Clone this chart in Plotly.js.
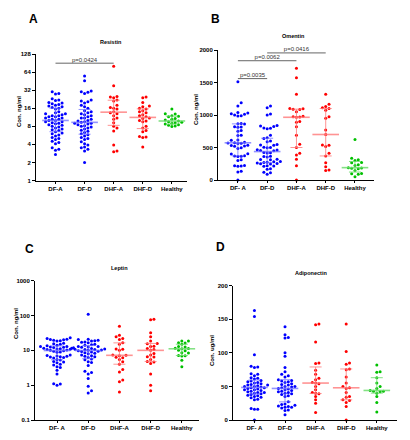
<!DOCTYPE html>
<html><head><meta charset="utf-8">
<script src="https://cdn.plot.ly/plotly-3.0.1.min.js"></script>
<style>html,body{margin:0;padding:0;background:#fff}#chart{width:410px;height:440px}</style>
</head><body><div id="chart"></div>
<script>
// ---------- data ----------
const groups = ['DF-A','DF-D','DHF-A','DHF-D','Healthy'];
const tickLabelsA = ['DF-A','DF-D','DHF-A','DHF-D','Healthy'];
const tickLabelsBCD = ['DF- A','DF-D','DHF-A','DHF-D','Healthy'];

// Resistin (ng/ml)
const resistinDFA = [30,28,27.5,23,22,21.5,20,19.5,19,18.5,18,17.5,17,16.5,16,15.5,14,13.5,13,13,12.5,12,12,11.5,11.5,11,11,10.5,10.5,10,10,9.5,9.5,9.2,9,8.8,8.5,8.3,8,7.8,7.5,7.2,7,6.8,6.5,6.2,6,5.7,5.5,5.2,5,4.8,4.5,4.3,4.1,3.5,3.3,3.2,2.7];
const resistinDFD = [55,46,31,30,29.5,28,22,21,20.5,19.5,18,17,16,14.5,14,13.5,13,12.5,12,11.5,11,11,10.5,10,9.8,9.5,9.3,9,9,8.7,8.5,8.2,8,7.8,7.5,7.2,6.9,6.6,6.3,6,5.8,5.5,5.2,5,4.8,4.4,4.1,3.9,3.6,3.5,3.3,3.1,2];
const resistinDHFA = [80,38,25,24.5,24,22,21,18,16.5,16,15.5,14,13.5,13,12,11,10.5,9.2,8,7.5,6.7,3.9,3.1,3.0];
const resistinDHFD = [24.5,24,20,17.5,17,16,15.5,14.5,14,13.5,12.5,12,11.5,11,10.8,10,9.8,9.5,8,7.5,6.8,6.5,5.4,5.3,5.2,3.6];
const resistinHealthy = [15.5,13,12.8,12,11.8,11.5,10.8,10.5,10.2,9.8,9.5,9.3,9.2,9,8.7,8.5,8.3,8.1,7.9];
const resistinTicks = [1,2,4,8,16,32,64,128];
const resistinComparisons = [{a:0,b:2,level:90,label:'p=0.0424'}];

// Omentin (ng/ml)
const omentinDFA = [1510,1190,1140,1040,1030,1020,1010,1000,990,985,870,865,860,820,815,810,760,750,690,685,615,610,580,575,570,565,560,535,530,525,520,495,485,405,400,375,370,365,360,310,300,225,220,215,210,135,125,0];
const omentinDFD = [1140,1110,1015,1000,840,830,825,800,795,790,690,650,640,600,590,545,540,535,505,500,495,465,460,455,450,425,420,415,365,360,355,320,315,310,285,280,275,270,260,255,250,245,220,215,210,175,165,120,110,90];
const omentinDHFA = [1720,1575,1320,1100,1095,1090,1085,1050,980,975,970,965,900,890,820,690,550,500,410,385,320,220,0];
const omentinDHFD = [1320,1165,1130,1110,1100,1075,975,950,770,700,540,535,515,410,370,265,205,155,145];
const omentinHealthy = [625,335,310,300,270,265,235,225,190,185,180,175,145,100,95,90,50];
const omentinTicks = [0,500,1000,1500,2000];
const omentinComparisons = [
  {a:0,b:1,level:1560,label:'p=0.0035'},
  {a:0,b:2,level:1835,label:'p=0.0062'},
  {a:1,b:3,level:1955,label:'p=0.0416'}
];

// Leptin (ng/ml)
const leptinDFA = [23,22,21,20.5,20,19.5,19,18.5,16,15.5,15,14,13.5,13,12.8,12.5,12.3,12,11.8,11.5,11.2,11,10.8,10.5,10.2,10,9.8,9.5,9,8.8,7.3,7.1,6.9,6.8,6.6,6.4,6.2,6,5.5,5.3,4.8,4.6,4.4,4,3.8,3.4,3.2,2.7,2.1,1.1,1.08,1.0];
const leptinDFD = [109,21,20.5,19.5,19,18.5,17.5,17,16.5,15,14.5,14,13,12.8,12.5,12.2,11.5,11.3,11,10.8,10.6,10.5,10.3,10,9.8,9.5,9.3,9,8.5,8.3,8,7.3,7,6.8,6.5,6.2,5.6,5.4,4.7,4.5,3.7,2.5,2.3,2.1,1.55,0.93,0.69,0.6];
const leptinDHFA = [49,27,24.5,22,20.5,16.4,15,11,10.8,10,7.4,7.2,7,6.3,6.1,5.5,4.7,4,2.8,2.4,1.4,1.25,0.64];
const leptinDHFD = [78,76,32,24.5,18.7,15.8,15.5,13.2,12.8,11.3,10.5,10,8.1,7.3,6.6,6.4,5.5,4.8,4.6,4.2,2.1,1.0,0.69];
const leptinHealthy = [18.7,18.5,16.5,16.3,15,12.8,12.5,11.5,11.3,11.1,10,9.8,8.6,8.4,7.1,7,6.9,5.2,3.4];
const leptinTicks = [0.1,1,10,100,1000];

// Adiponectin (ug/ml)
const adiponectinDFA = [163,154,97,80,79,78,69,68,66,63,62,61,59,58,57,56,55,54,53,52,52,51,50,50,49,48,48,47,46,45,45,44,43,42,41,41,40,39,38,37,36,35,34,33,31,30,17,16,16,0];
const adiponectinDFD = [139,127,123,122,100,95,78,72,68,66,64,60,59,58,57,56,54,53,52,50,50,49,48,47,46,45,44,43,42,41,40,39,38,36,35,27,24,23,22,21,20,19,19,18,15,14,8];
const adiponectinDHFA = [143,142,116,85,84,74,68,62,60,56,55,54,50,45,41,40,39,35,30,25,11];
const adiponectinDHFD = [143,102,85,83,76,75,64,55,50,48,47,41,35,34,30,29,26,20,0];
const adiponectinHealthy = [82,72,71,63,55,50,47,44,43,43,42,40,35,26,12];
const adiponectinTicks = [0,50,100,150,200];

// ---------- styling / layout config ----------
const W = 410, H = 440;
const FONT = 'Liberation Sans, Arial, sans-serif';
const dotColors = ['#0000ff','#0000ff','#ff0000','#ff0000','#00c000'];
const barColors = ['rgba(110,110,255,0.75)','rgba(110,110,255,0.75)','rgba(255,120,120,0.8)','rgba(255,120,120,0.8)','rgba(110,220,110,0.85)'];

const panels = [
  {letter:'A', title:'Resistin', ytitle:'Con. ng/ml', type:'log', ticks:resistinTicks, xlabels:tickLabelsA,
   data:[resistinDFA,resistinDFD,resistinDHFA,resistinDHFD,resistinHealthy], comps:resistinComparisons,
   px:[36,187], py:[54,180.5], xr:[-0.67,4.52], yr:[1,128],
   letterPos:[33,19], titlePos:[111,42], ytitlePos:[19,112]},
  {letter:'B', title:'Omentin', ytitle:'Con. ng/ml', type:'linear', ticks:omentinTicks, xlabels:tickLabelsBCD,
   data:[omentinDFA,omentinDFD,omentinDHFA,omentinDHFD,omentinHealthy], comps:omentinComparisons,
   px:[218,374], py:[50,180], xr:[-0.68,4.65], yr:[0,2000],
   letterPos:[215,19], titlePos:[293,36], ytitlePos:[196,110]},
  {letter:'C', title:'Leptin', ytitle:'Con. ng/ml', type:'log', ticks:leptinTicks, xlabels:tickLabelsBCD,
   data:[leptinDFA,leptinDFD,leptinDHFA,leptinDHFD,leptinHealthy], comps:[],
   px:[35,199], py:[280.7,420], xr:[-0.705,4.55], yr:[0.1,1000],
   letterPos:[30,249], titlePos:[120,268], ytitlePos:[16,324]},
  {letter:'D', title:'Adiponectin', ytitle:'Con. ug/ml', type:'linear', ticks:adiponectinTicks, xlabels:tickLabelsBCD,
   data:[adiponectinDFA,adiponectinDFD,adiponectinDHFA,adiponectinDHFD,adiponectinHealthy], comps:[],
   px:[233,397], py:[285.7,420], xr:[-0.70,4.66], yr:[0,200],
   letterPos:[220,247], titlePos:[311,273], ytitlePos:[212,351]}
];

function quantile(arr, p) {
  const s = [...arr].sort((a,b)=>a-b);
  const h = (s.length + 1) * p - 1;
  const lo = Math.max(0, Math.min(s.length - 1, Math.floor(h)));
  const hi = Math.min(s.length - 1, lo + 1);
  const f = Math.max(0, Math.min(1, h - lo));
  return s[lo] + f * (s[hi] - s[lo]);
}

// beeswarm offsets (px) computed from the values and the axis pixel scale
function swarm(vals, toPx, step, minDist) {
  const order = vals.map((v,i)=>i).sort((a,b)=>toPx(vals[a]) - toPx(vals[b]));
  const placed = [];
  const off = new Array(vals.length).fill(0);
  for (const i of order) {
    const y = toPx(vals[i]);
    for (let k = 0; k < 200; k++) {
      const o = k === 0 ? 0 : (k % 2 ? 1 : -1) * Math.ceil(k / 2) * step;
      let ok = true;
      for (const p of placed) {
        const dx = p.x - o, dy = p.y - y;
        if (dx*dx + dy*dy < minDist*minDist) { ok = false; break; }
      }
      if (ok) { placed.push({x:o, y}); off[i] = o; break; }
    }
  }
  return off;
}

const traces = [];
const layout = {
  width: W, height: H, margin:{l:0,r:0,t:0,b:0},
  paper_bgcolor:'#fff', plot_bgcolor:'rgba(0,0,0,0)',
  showlegend:false, hovermode:false,
  font:{family:FONT, color:'#000'},
  annotations:[], shapes:[]
};

panels.forEach((p, pi) => {
  const n = pi + 1;
  const xa = 'x' + (n > 1 ? n : ''), ya = 'y' + (n > 1 ? n : '');
  const xk = 'xaxis' + (n > 1 ? n : ''), yk = 'yaxis' + (n > 1 ? n : '');
  const isLog = p.type === 'log';
  const yRange = isLog ? [Math.log10(p.yr[0]), Math.log10(p.yr[1])] : p.yr;
  const plotW = p.px[1] - p.px[0], plotH = p.py[1] - p.py[0];
  const pxPerX = plotW / (p.xr[1] - p.xr[0]);
  const pxPerY = plotH / (yRange[1] - yRange[0]);
  const toPx = isLog ? (v => Math.log10(v) * pxPerY) : (v => v * pxPerY);

  layout[xk] = {
    domain:[p.px[0]/W, p.px[1]/W], range:p.xr, anchor:ya,
    tickvals:[0,1,2,3,4], ticktext:p.xlabels,
    ticks:'outside', ticklen:2, tickwidth:1, tickcolor:'#000',
    showline:true, linecolor:'#000', linewidth:1,
    showgrid:false, zeroline:false, fixedrange:true,
    tickfont:{family:FONT, size:6, color:'#000', weight:700}
  };
  layout[yk] = {
    domain:[1 - p.py[1]/H, 1 - p.py[0]/H], type:p.type, range:yRange, anchor:xa,
    tickvals:p.ticks, ticktext:p.ticks.map(String),
    ticks:'outside', ticklen:3, tickwidth:1, tickcolor:'#000',
    showline:true, linecolor:'#000', linewidth:1,
    showgrid:false, zeroline:false, fixedrange:true,
    tickfont:{family:FONT, size:6, color:'#000', weight:700}
  };

  p.data.forEach((vals, g) => {
    const off = swarm(vals, toPx, 3.3, 3.3);
    traces.push({
      type:'scatter', mode:'markers', xaxis:xa, yaxis:ya,
      x: vals.map((v,i)=> g + off[i]/pxPerX), y: vals,
      marker:{size:3.0, color:dotColors[g], line:{width:0}},
      cliponaxis:false
    });
  });
  p.data.forEach((vals, g) => {
    const med = quantile(vals, 0.5), q1 = quantile(vals, 0.25), q3 = quantile(vals, 0.75);
    traces.push({
      type:'scatter', mode:'markers', xaxis:xa, yaxis:ya,
      x:[g], y:[med],
      marker:{symbol:'line-ew', size:19, color:barColors[g], line:{width:1.6, color:barColors[g]}},
      error_y:{type:'data', symmetric:false, array:[q3-med], arrayminus:[med-q1],
               color:barColors[g], thickness:1, width:6},
      cliponaxis:false
    });
  });

  p.comps.forEach(c => {
    traces.push({
      type:'scatter', mode:'lines', xaxis:xa, yaxis:ya,
      x:[c.a, c.b], y:[c.level, c.level],
      line:{color:'#666', width:1}, cliponaxis:false
    });
    traces.push({
      type:'scatter', mode:'text', xaxis:xa, yaxis:ya,
      x:[(c.a + c.b)/2], y:[c.level], text:[c.label], textposition:'top center',
      textfont:{family:FONT, size:6, color:'#333'}, cliponaxis:false
    });
  });

  layout.annotations.push(
    {xref:'paper', yref:'paper', x:p.letterPos[0]/W, y:1 - p.letterPos[1]/H, text:p.letter,
     showarrow:false, xanchor:'center', yanchor:'middle', font:{family:FONT, size:12, weight:700, color:'#000'}},
    {xref:'paper', yref:'paper', x:p.titlePos[0]/W, y:1 - p.titlePos[1]/H, text:p.title,
     showarrow:false, xanchor:'center', yanchor:'middle', font:{family:FONT, size:5.5, weight:700, color:'#000'}},
    {xref:'paper', yref:'paper', x:p.ytitlePos[0]/W, y:1 - p.ytitlePos[1]/H, text:p.ytitle, textangle:-90,
     showarrow:false, xanchor:'center', yanchor:'middle', font:{family:FONT, size:6, weight:700, color:'#000'}}
  );
});

Plotly.newPlot('chart', traces, layout, {displayModeBar:false, staticPlot:true});
</script></body></html>
